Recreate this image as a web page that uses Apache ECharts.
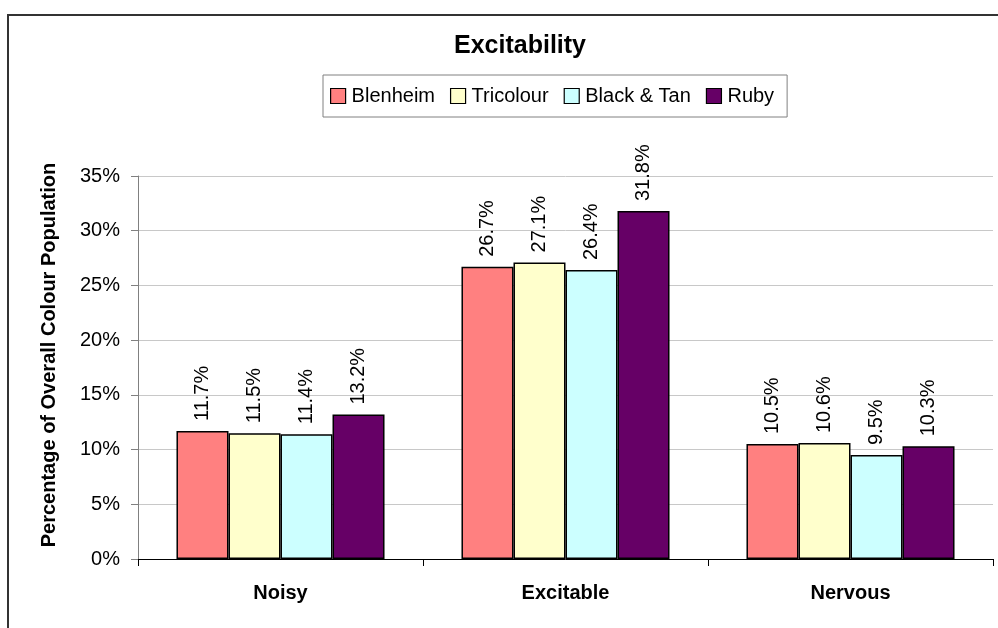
<!DOCTYPE html>
<html>
<head>
<meta charset="utf-8">
<script src="https://cdn.jsdelivr.net/npm/echarts@6/dist/echarts.min.js"></script>
<style>
html,body{margin:0;padding:0;background:#fff;}
#chart{width:998px;height:628px;}
</style>
</head>
<body>
<div id="chart"></div>
<script>
var categories = ['Noisy', 'Excitable', 'Nervous'];
var seriesNames = ['Blenheim', 'Tricolour', 'Black & Tan', 'Ruby'];
var blenheim = [11.7, 26.7, 10.5];
var tricolour = [11.5, 27.1, 10.6];
var blackTan = [11.4, 26.4, 9.5];
var ruby = [13.2, 31.8, 10.3];
var yTicks = [0, 5, 10, 15, 20, 25, 30, 35];
var yAxisTitle = 'Percentage of Overall Colour Population';
var colors = ['#FF8080', '#FFFFCC', '#CCFFFF', '#660066'];
var values = [blenheim, tricolour, blackTan, ruby];

var FONT = '"Liberation Sans", Arial, sans-serif';
var chart = echarts.init(document.getElementById('chart'), null, {renderer: 'canvas'});

var series = seriesNames.map(function (name, i) {
  return {
    name: name,
    type: 'bar',
    data: values[i],
    barGap: '0%',
    barCategoryGap: '27%',
    itemStyle: {color: colors[i], borderColor: '#000', borderWidth: 1.5},
    label: {
      show: true,
      position: 'top',
      rotate: 90,
      align: 'left',
      verticalAlign: 'middle',
      distance: 10,
      fontFamily: FONT,
      fontSize: 20,
      color: '#000',
      formatter: function (p) { return p.value.toFixed(1) + '%'; }
    }
  };
});

chart.setOption({
  animation: false,
  backgroundColor: '#fff',
  title: {
    text: 'Excitability',
    left: 515,
    top: 29,
    textAlign: 'center',
    textStyle: {fontFamily: FONT, fontSize: 25, fontWeight: 'bold', color: '#000'}
  },
  legend: {
    data: seriesNames,
    left: 323,
    top: 75,
    orient: 'horizontal',
    itemWidth: 15,
    itemHeight: 15,
    itemGap: 15,
    padding: [11, 13, 11, 7],
    borderColor: '#808080',
    borderWidth: 1,
    icon: 'rect',
    textStyle: {fontFamily: FONT, fontSize: 20, color: '#000', padding: [0, 0, 0, 1]},
    itemStyle: {borderColor: '#000', borderWidth: 1.2}
  },
  grid: {left: 138, right: 5, top: 176, bottom: 69, containLabel: false},
  xAxis: {
    type: 'category',
    data: categories,
    axisLine: {lineStyle: {color: '#000', width: 1}},
    axisTick: {show: true, length: 7, interval: 0, alignWithLabel: false, lineStyle: {color: '#000'}},
    axisLabel: {fontFamily: FONT, fontSize: 20, fontWeight: 'bold', color: '#000', margin: 24, interval: 0},
    splitLine: {show: false}
  },
  yAxis: {
    type: 'value',
    min: yTicks[0],
    max: yTicks[yTicks.length - 1],
    interval: 5,
    axisLine: {show: true, lineStyle: {color: '#808080', width: 1}},
    axisTick: {show: true, length: 7, lineStyle: {color: '#808080'}},
    axisLabel: {fontFamily: FONT, fontSize: 20, color: '#000', margin: 18, formatter: '{value}%'},
    splitLine: {show: true, lineStyle: {color: '#C8C8C8', width: 1}}
  },
  series: series,
  graphic: [{
    type: 'rect',
    shape: {x: 8, y: 15, width: 1100, height: 800},
    style: {fill: 'none', stroke: '#333', lineWidth: 2},
    silent: true,
    z: 100
  }, {
    type: 'text',
    x: 49,
    y: 355,
    rotation: Math.PI / 2,
    style: {
      text: yAxisTitle,
      fontFamily: FONT,
      fontSize: 20,
      fontWeight: 'bold',
      fill: '#000',
      textAlign: 'center',
      textVerticalAlign: 'middle'
    },
    silent: true
  }]
});
</script>
</body>
</html>
